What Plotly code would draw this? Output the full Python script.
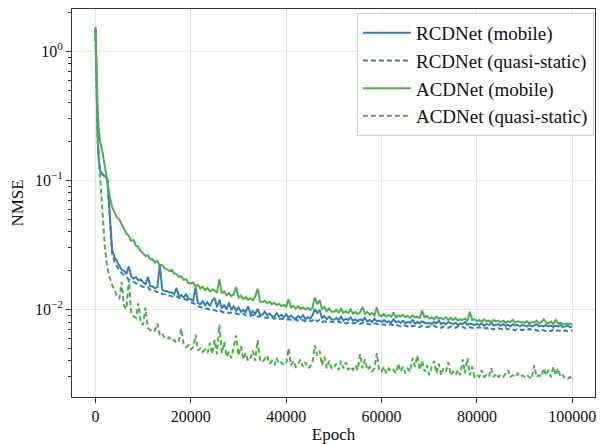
import plotly.graph_objects as go

# ---------------- data ----------------
epochs = [0, 250, 500, 750, 1000, 1500, 2000, 2500, 3000, 3500, 4000, 4500] + list(range(5000, 100001, 500))

rcd_mobile = [
    1.50, 0.42, 0.20, 0.140, 0.118, 0.112, 0.108, 0.103, 0.055, 0.029, 0.0255, 0.0235,
    0.0218, 0.0203, 0.0199, 0.0188, 0.0216, 0.0181, 0.0174, 0.0178, 0.0168, 0.0171,
    0.0163, 0.0157, 0.0179, 0.0152, 0.0151, 0.0146, 0.0149, 0.0223, 0.0143, 0.0139,
    0.0139, 0.0135, 0.0136, 0.0131, 0.0147, 0.0127, 0.0129, 0.0124, 0.0131, 0.0122,
    0.0120, 0.0117, 0.0149, 0.0112, 0.0110, 0.0116, 0.0108, 0.0114, 0.0106, 0.0118,
    0.0123, 0.0104, 0.0119, 0.0102, 0.0109, 0.0100, 0.0113, 0.0099, 0.0106, 0.0098,
    0.0104, 0.0096, 0.0099, 0.0095, 0.0106, 0.0093, 0.0097, 0.0092, 0.0101, 0.0091,
    0.0091, 0.0096, 0.0090, 0.0093, 0.0089, 0.0088, 0.0094, 0.0088, 0.0091, 0.0087,
    0.0092, 0.0086, 0.0090, 0.0086, 0.0085, 0.0089, 0.0085, 0.0091, 0.0084, 0.0087,
    0.0085, 0.0090, 0.0101, 0.0094, 0.0099, 0.0086, 0.0089, 0.0084, 0.0088, 0.0084,
    0.0083, 0.0086, 0.0083, 0.0088, 0.0082, 0.0085, 0.0083, 0.0087, 0.0082, 0.0084,
    0.0081, 0.0084, 0.0082, 0.0086, 0.0081, 0.0083, 0.0080, 0.0085, 0.0081, 0.0082,
    0.0080, 0.0083, 0.0080, 0.0081, 0.0079, 0.0084, 0.0080, 0.0081, 0.0079, 0.0082,
    0.0078, 0.0080, 0.0079, 0.0083, 0.0078, 0.0080, 0.0078, 0.0081, 0.0079, 0.0078,
    0.0079, 0.0077, 0.0080, 0.0078, 0.0082, 0.0077, 0.0079, 0.0077, 0.0080, 0.0078,
    0.0077, 0.0079, 0.0076, 0.0078, 0.0077, 0.0080, 0.0076, 0.0078, 0.0077, 0.0076,
    0.0077, 0.0076, 0.0078, 0.0075, 0.0077, 0.0076, 0.0079, 0.0075, 0.0076, 0.0077,
    0.0075, 0.0077, 0.0075, 0.0076, 0.0074, 0.0077, 0.0075, 0.0076, 0.0074, 0.0076,
    0.0075, 0.0074, 0.0076, 0.0074, 0.0075, 0.0077, 0.0074, 0.0075, 0.0074, 0.0076,
    0.0074, 0.0075, 0.0073, 0.0075, 0.0074, 0.0076, 0.0073, 0.0074, 0.0075, 0.0073,
    0.0074,
]

rcd_quasi = [
    1.50, 0.42, 0.20, 0.140, 0.118, 0.111, 0.107, 0.101, 0.050, 0.027, 0.0235, 0.0215,
    0.0201, 0.0192, 0.0184, 0.0177, 0.0171, 0.0167, 0.0163, 0.0160, 0.0156, 0.0153,
    0.0150, 0.0147, 0.0149, 0.0142, 0.0140, 0.0140, 0.0136, 0.0137, 0.0132, 0.0131,
    0.0129, 0.0128, 0.0127, 0.0125, 0.0126, 0.0123, 0.0122, 0.0121, 0.0120, 0.0118,
    0.0114, 0.0112, 0.0110, 0.0106, 0.0104, 0.0103, 0.0101, 0.0102, 0.0099, 0.0100,
    0.0098, 0.0097, 0.0099, 0.0096, 0.0095, 0.0096, 0.0094, 0.0094, 0.0095, 0.0093,
    0.0092, 0.0091, 0.0093, 0.0090, 0.0090, 0.0089, 0.0091, 0.0088, 0.0088, 0.0089,
    0.0087, 0.0087, 0.0086, 0.0088, 0.0086, 0.0085, 0.0086, 0.0084, 0.0085, 0.0084,
    0.0083, 0.0084, 0.0083, 0.0082, 0.0084, 0.0082, 0.0082, 0.0083, 0.0081, 0.0082,
    0.0081, 0.0082, 0.0085, 0.0081, 0.0083, 0.0080, 0.0081, 0.0080, 0.0081, 0.0080,
    0.0080, 0.0079, 0.0081, 0.0079, 0.0080, 0.0078, 0.0079, 0.0080, 0.0078, 0.0079,
    0.0078, 0.0077, 0.0079, 0.0077, 0.0078, 0.0077, 0.0076, 0.0078, 0.0077, 0.0076,
    0.0076, 0.0077, 0.0075, 0.0076, 0.0077, 0.0075, 0.0076, 0.0075, 0.0074, 0.0076,
    0.0075, 0.0074, 0.0076, 0.0074, 0.0075, 0.0074, 0.0073, 0.0075, 0.0074, 0.0073,
    0.0074, 0.0073, 0.0075, 0.0073, 0.0074, 0.0072, 0.0074, 0.0073, 0.0072, 0.0074,
    0.0073, 0.0072, 0.0074, 0.0072, 0.0073, 0.0072, 0.0071, 0.0073, 0.0072, 0.0071,
    0.0072, 0.0073, 0.0071, 0.0072, 0.0071, 0.0073, 0.0071, 0.0070, 0.0072, 0.0071,
    0.0071, 0.0070, 0.0072, 0.0070, 0.0071, 0.0070, 0.0069, 0.0071, 0.0070, 0.0069,
    0.0070, 0.0069, 0.0071, 0.0069, 0.0070, 0.0069, 0.0068, 0.0070, 0.0069, 0.0068,
    0.0069, 0.0068, 0.0070, 0.0068, 0.0069, 0.0068, 0.0067, 0.0069, 0.0068, 0.0068,
    0.0069,
]

acd_mobile = [
    1.55, 0.55, 0.32, 0.24, 0.20, 0.165, 0.125, 0.097, 0.075, 0.062, 0.056, 0.052,
    0.0500, 0.0462, 0.0431, 0.0388, 0.0372, 0.0341, 0.0345, 0.0312, 0.0306, 0.0284,
    0.0272, 0.0259, 0.0263, 0.0246, 0.0244, 0.0231, 0.0238, 0.0219, 0.0222, 0.0208,
    0.0205, 0.0199, 0.0203, 0.0190, 0.0188, 0.0179, 0.0181, 0.0169, 0.0172, 0.0161,
    0.0159, 0.0162, 0.0151, 0.0155, 0.0146, 0.0150, 0.0141, 0.0147, 0.0138, 0.0143,
    0.0140, 0.0135, 0.0172, 0.0133, 0.0138, 0.0129, 0.0134, 0.0127, 0.0131, 0.0149,
    0.0124, 0.0128, 0.0121, 0.0125, 0.0119, 0.0122, 0.0118, 0.0126, 0.0145, 0.0116,
    0.0114, 0.0117, 0.0112, 0.0115, 0.0110, 0.0113, 0.0108, 0.0111, 0.0106, 0.0109,
    0.0105, 0.0120, 0.0104, 0.0107, 0.0102, 0.0106, 0.0101, 0.0104, 0.0100, 0.0103,
    0.0099, 0.0103, 0.0124, 0.0110, 0.0118, 0.0101, 0.0105, 0.0097, 0.0102, 0.0096,
    0.0096, 0.0099, 0.0095, 0.0101, 0.0094, 0.0097, 0.0094, 0.0100, 0.0093, 0.0096,
    0.0092, 0.0095, 0.0105, 0.0093, 0.0096, 0.0091, 0.0094, 0.0090, 0.0104, 0.0090,
    0.0089, 0.0092, 0.0088, 0.0091, 0.0088, 0.0095, 0.0087, 0.0090, 0.0088, 0.0091,
    0.0087, 0.0089, 0.0086, 0.0090, 0.0087, 0.0088, 0.0086, 0.0098, 0.0087, 0.0089,
    0.0085, 0.0087, 0.0084, 0.0088, 0.0085, 0.0086, 0.0084, 0.0087, 0.0083, 0.0086,
    0.0083, 0.0086, 0.0082, 0.0084, 0.0083, 0.0085, 0.0082, 0.0096, 0.0083, 0.0084,
    0.0081, 0.0083, 0.0080, 0.0084, 0.0081, 0.0082, 0.0080, 0.0083, 0.0081, 0.0082,
    0.0080, 0.0082, 0.0079, 0.0081, 0.0080, 0.0083, 0.0079, 0.0081, 0.0080, 0.0079,
    0.0079, 0.0081, 0.0078, 0.0080, 0.0079, 0.0082, 0.0078, 0.0080, 0.0084, 0.0079,
    0.0078, 0.0081, 0.0077, 0.0083, 0.0078, 0.0079, 0.0077, 0.0078, 0.0077, 0.0078,
    0.0077,
]

acd_quasi = [
    1.50, 0.45, 0.20, 0.14, 0.105, 0.060, 0.030, 0.021, 0.0175, 0.0155, 0.0140, 0.0128,
    0.0121, 0.0163, 0.0106, 0.0101, 0.0171, 0.0093, 0.0089, 0.0086, 0.0112, 0.0079,
    0.0076, 0.0104, 0.0072, 0.0070, 0.0067, 0.0069, 0.0078, 0.0063, 0.0065, 0.0060,
    0.0059, 0.0061, 0.0057, 0.0058, 0.0055, 0.0057, 0.0071, 0.0054, 0.0051, 0.0053,
    0.0049, 0.0051, 0.0064, 0.0048, 0.0050, 0.0047, 0.0049, 0.0046, 0.0055, 0.0045,
    0.0058, 0.0045, 0.0076, 0.0046, 0.0056, 0.0043, 0.0047, 0.0042, 0.0050, 0.0063,
    0.0044, 0.0052, 0.0041, 0.0046, 0.0040, 0.0042, 0.0048, 0.0040, 0.0058, 0.0041,
    0.0039, 0.0041, 0.0044, 0.0038, 0.0040, 0.0037, 0.0042, 0.0038, 0.0039, 0.0037,
    0.0038, 0.0050, 0.0037, 0.0040, 0.0036, 0.0038, 0.0041, 0.0036, 0.0039, 0.0035,
    0.0036, 0.0039, 0.0053, 0.0044, 0.0048, 0.0037, 0.0043, 0.0035, 0.0040, 0.0035,
    0.0035, 0.0038, 0.0034, 0.0040, 0.0035, 0.0039, 0.0034, 0.0036, 0.0034, 0.0037,
    0.0034, 0.0045, 0.0035, 0.0041, 0.0034, 0.0036, 0.0033, 0.0035, 0.0046, 0.0034,
    0.0033, 0.0036, 0.0032, 0.0035, 0.0033, 0.0034, 0.0032, 0.0038, 0.0033, 0.0036,
    0.0032, 0.0035, 0.0033, 0.0042, 0.0036, 0.0044, 0.0034, 0.0040, 0.0033, 0.0037,
    0.0031, 0.0036, 0.0040, 0.0032, 0.0038, 0.0031, 0.0035, 0.0033, 0.0039, 0.0031,
    0.0033, 0.0031, 0.0034, 0.0031, 0.0041, 0.0032, 0.0042, 0.0031, 0.0036, 0.0030,
    0.0031, 0.0030, 0.0034, 0.0030, 0.0031, 0.0030, 0.0035, 0.0030, 0.0032, 0.0030,
    0.0031, 0.0030, 0.0032, 0.0034, 0.0030, 0.0031, 0.0030, 0.0032, 0.0030, 0.0031,
    0.0030, 0.0031, 0.0030, 0.0029, 0.0037, 0.0030, 0.0031, 0.0030, 0.0035, 0.0031,
    0.0034, 0.0030, 0.0036, 0.0031, 0.0035, 0.0030, 0.0031, 0.0029, 0.0029, 0.0030,
    0.0029,
]

series_names = ["RCDNet (mobile)", "RCDNet (quasi-static)", "ACDNet (mobile)", "ACDNet (quasi-static)"]

x_tick_vals = [0, 20000, 40000, 60000, 80000, 100000]
x_tick_text = ["0", "20000", "40000", "60000", "80000", "100000"]
y_tick_vals = [1, 0.1, 0.01]
y_tick_text = ["10<sup>0</sup>", "10<sup>\u22121</sup>", "10<sup>\u22122</sup>"]
y_minor_vals = [m * d for d in (0.001, 0.01, 0.1, 1) for m in range(2, 10)]

# ---------------- styling ----------------
BLUE = "#377eb8"
GREEN = "#4daf4a"
FONT = "Liberation Serif"

fig = go.Figure()
styles = [(BLUE, "solid"), (BLUE, "5px,3px"), (GREEN, "solid"), (GREEN, "5px,3px")]
for name, ys, (col, dash) in zip(series_names, [rcd_mobile, rcd_quasi, acd_mobile, acd_quasi], styles):
    fig.add_trace(go.Scatter(
        x=epochs, y=ys, name=name, mode="lines",
        line=dict(color=col, width=2, dash=dash),
    ))

axis_common = dict(
    showline=True, linecolor="#333333", linewidth=1, mirror=True,
    ticks="outside", ticklen=5, tickwidth=1, tickcolor="#333333",
    showgrid=True, gridcolor="#e3e3e3", gridwidth=1, zeroline=False,
    tickfont=dict(family=FONT, size=16, color="#111111"),
)

fig.update_layout(
    width=600, height=444,
    margin=dict(l=72, r=4, t=9, b=45),
    paper_bgcolor="white", plot_bgcolor="white",
    font=dict(family=FONT, size=16, color="#111111"),
    showlegend=True,
    legend=dict(
        x=0.998, y=0.99, xanchor="right", yanchor="top",
        bgcolor="rgba(255,255,255,0.85)", bordercolor="#d0d0d0", borderwidth=1,
        font=dict(family=FONT, size=19, color="#111111"),
        itemwidth=48,
        tracegroupgap=0,
    ),
    xaxis=dict(
        axis_common,
        range=[-4913, 104746],
        tickmode="array", tickvals=x_tick_vals, ticktext=x_tick_text,
        title=dict(text="Epoch", font=dict(family=FONT, size=17), standoff=3),
    ),
    yaxis=dict(
        axis_common,
        type="log",
        range=[-2.678, 0.329],
        tickmode="array", tickvals=y_tick_vals, ticktext=y_tick_text,
        minor=dict(tickmode="array", tickvals=y_minor_vals, ticks="outside",
                   ticklen=3, tickwidth=1, tickcolor="#333333", showgrid=False),
        title=dict(text="NMSE", font=dict(family=FONT, size=17), standoff=6),
    ),
)

fig.write_html("out.html")
